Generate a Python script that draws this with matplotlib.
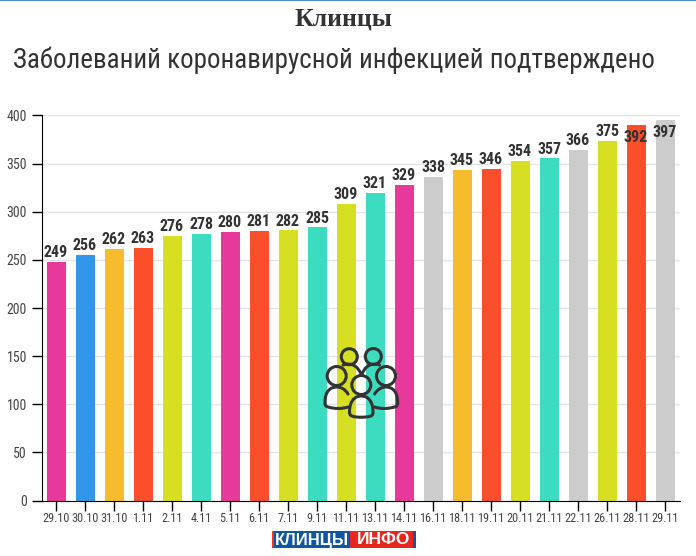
import matplotlib
matplotlib.use("Agg")
import matplotlib.pyplot as plt
from matplotlib.patches import Rectangle, Circle, PathPatch
from matplotlib.path import Path

W, H = 696, 556
NARROW = ["Roboto Condensed", "Roboto", "DejaVu Sans"]
INK = "#333333"

dates = ["29.10", "30.10", "31.10", "1.11", "2.11", "4.11", "5.11", "6.11", "7.11", "9.11", "11.11",
         "13.11", "14.11", "16.11", "18.11", "19.11", "20.11", "21.11", "22.11", "26.11", "28.11", "29.11"]
cases = [249, 256, 262, 263, 276, 278, 280, 281, 282, 285, 309,
         321, 329, 338, 345, 346, 354, 357, 366, 375, 392, 397]
# bar tops as measured, they sit a little under the printed numbers
heights = [247.7, 254.9, 261.2, 262.2, 274.7, 276.7, 278.7, 279.7, 280.7, 283.7, 307.9,
           319.3, 327.6, 336, 343.2, 344.2, 352.5, 355.5, 364, 373.3, 390, 395]
colors = ["#e6399b", "#3296ea", "#f7bc2d", "#fa4f2a", "#d7df23", "#3bdcc0", "#e6399b", "#fa4f2a", "#d7df23",
          "#3bdcc0", "#d7df23", "#3bdcc0", "#e6399b", "#cccccc", "#f7bc2d", "#fa4f2a", "#d7df23", "#3bdcc0",
          "#cccccc", "#d7df23", "#fa4f2a", "#cccccc"]
y_ticks = [0, 50, 100, 150, 200, 250, 300, 350, 400]

fig = plt.figure(figsize=(W / 100, H / 100), dpi=100)

# page overlay in pixel coordinates, y going down
page = fig.add_axes([0, 0, 1, 1], zorder=3)
page.set_xlim(0, W)
page.set_ylim(H, 0)
page.axis("off")

ax = fig.add_axes([41.5 / W, (H - 500.5) / H, 638 / W, 385 / H], zorder=1)
x = list(range(len(cases)))
ax.bar(x, heights, width=19 / 29, color=colors, zorder=2)
ax.set_xlim(-0.5, len(cases) - 0.5)
ax.set_ylim(0, 400)
ax.set_yticks(y_ticks)
ax.set_xticks(x)
ax.set_xticklabels(dates, family=NARROW, fontsize=8.8, color="#444444")
ax.set_yticklabels(y_ticks, family=NARROW, fontsize=10, color="#444444")
ax.tick_params(axis="x", length=7, width=1, pad=1.5)
ax.tick_params(axis="y", length=7, width=1, pad=3.5)
ax.grid(axis="y", color="#e3e3e3", linewidth=1, zorder=0)
ax.set_axisbelow(True)
for side in ["top", "right"]:
    ax.spines[side].set_visible(False)

# the two last labels sit inside their bars
for i, v in enumerate(cases):
    off = -9 if v > 390 else 6.7
    ax.annotate(str(v), (i, heights[i]), xytext=(0, off), textcoords="offset points", ha="center", va="center",
                family=NARROW, fontsize=11.5, fontweight="bold", color=INK, zorder=4,
                annotation_clip=False)

# top line and titles
page.add_patch(Rectangle((0, 0), W, 1.3, color="#4a90c8", lw=0))
page.text(343, 19, "Клинцы", family="Liberation Serif", fontweight="bold", fontsize=18.5, color=INK,
          ha="center", va="center")
page.text(13, 60, "Заболеваний коронавирусной инфекцией подтверждено", family=NARROW, fontsize=19.45,
          color=INK, ha="left", va="center")


# people icon, back figures are cut off by the front ones
def stroke(verts):
    if (len(verts) - 1) % 3 == 0:
        codes = [Path.MOVETO] + [Path.CURVE4] * (len(verts) - 1)
    else:
        codes = [Path.MOVETO, Path.CURVE3, Path.CURVE3]
    page.add_patch(PathPatch(Path(verts, codes), fc="none", ec=INK, lw=2.2, capstyle="round"))


for head in [(349.3, 356.7, 8), (373.3, 356.5, 8), (336.7, 376, 9.5), (386, 376, 9.5), (361.3, 385, 9.5)]:
    page.add_patch(Circle(head[:2], head[2], fc="none", ec=INK, lw=2.2))

side_body = [(348, 394), (345, 389), (341, 387), (336.7, 387), (329, 387), (325, 393), (325, 402),
             (325, 405), (325, 406), (328, 407), (335, 409), (342, 409), (348, 407)]
stroke(side_body)
stroke([(722.6 - px, py) for px, py in side_body])
stroke([(349.5, 412), (349.5, 402), (354, 396), (361.3, 396), (368.6, 396), (373, 402), (373, 412),
        (373, 415), (372, 416), (369, 416.5), (364, 417.5), (358, 417.5), (353.5, 416.5),
        (351, 416), (349.5, 415), (349.5, 412)])
stroke([(343, 365), (356, 361), (361.5, 375)])
stroke([(379.5, 365), (367, 361), (361.5, 375)])

# logo
page.add_patch(Rectangle((272, 531), 2, 17, color="#e8392b", lw=0))
page.add_patch(Rectangle((274, 531), 76, 17, color="#0f56a4", lw=0))
page.add_patch(Rectangle((350, 531), 63, 17, color="#e8261f", lw=0))
page.add_patch(Rectangle((413, 531), 3, 17, color="#0f56a4", lw=0))
page.text(312, 540, "КЛИНЦЫ", family="Liberation Sans", fontweight="bold", fontsize=12, color="white",
          ha="center", va="center")
page.text(383.5, 540, "ИНФО", family="Liberation Sans", fontweight="bold", fontsize=12.5, color="white",
          ha="center", va="center")

fig.savefig("out.png", dpi=100)
